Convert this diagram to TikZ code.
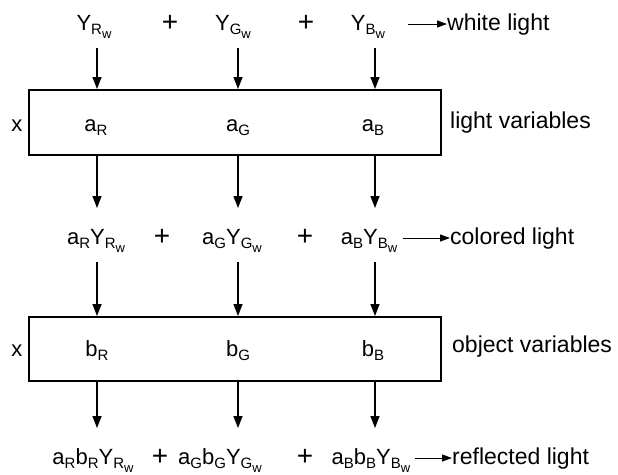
\documentclass[tikz,border=0pt]{standalone}
\usepackage{fontspec}
\setmainfont{Liberation Sans}
\usetikzlibrary{arrows.meta}
\newcommand{\mainsz}{\fontsize{22}{26}\selectfont}
\newcommand{\lblsz}{\fontsize{23}{27}\selectfont}
\newcommand{\plussz}{\fontsize{28}{30}\selectfont}
\newcommand{\sbs}[1]{\raisebox{-4.5pt}{\fontsize{15}{15}\selectfont #1}}
\newcommand{\Yw}[1]{Y\raisebox{-4.5pt}{\fontsize{15}{15}\selectfont #1\raisebox{-3.5pt}{\fontsize{13}{13}\selectfont w}}}
\begin{document}
\begin{tikzpicture}[x=1pt,y=-1pt,
  txt/.style={anchor=base,inner sep=1pt,font=\mainsz},
  plus/.style={anchor=base,inner sep=1pt,font=\plussz},
  lbl/.style={anchor=base west,inner sep=0pt,font=\lblsz},
  varbox/.style={draw,line width=1.8pt,minimum width=412pt,minimum height=65pt,anchor=north west,inner sep=0pt},
  varr/.style={line width=1.4pt,-{Triangle[length=12pt,width=9pt]}},
  harr/.style={line width=1pt,-{Triangle[length=10pt,width=7pt]}}]
\useasboundingbox (0,0) rectangle (618,474);
% boxes
\node[varbox] (box1) at (28,89) {};
\node[varbox,minimum height=64pt] (box2) at (28,316) {};
% row 1
\node[txt] (yR) at (94,30) {\Yw{R}};
\node[plus] (p11) at (170,31) {+};
\node[txt] (yG) at (233,30) {\Yw{G}};
\node[plus] (p12) at (306,31) {+};
\node[txt] (yB) at (368,30) {\Yw{B}};
\node[lbl] (wl) at (447,30) {white light};
\coordinate (wlS) at ([xshift=-39pt,yshift=6pt]wl.base west);
\draw[harr] (wlS) -- ([yshift=6pt]wl.base west);
\coordinate (t1) at (97,48);
\coordinate (t2) at (238,48);
\coordinate (t3) at (375,48);
\draw[varr] (t1) -- (t1 |- box1.north);
\draw[varr] (t2) -- (t2 |- box1.north);
\draw[varr] (t3) -- (t3 |- box1.north);
% box 1 contents
\node[txt] (x1) at (17,131) {x};
\node[txt] (aR) at (96,131) {a\sbs{R}};
\node[txt] (aG) at (238,131) {a\sbs{G}};
\node[txt] (aB) at (373,131) {a\sbs{B}};
\node[lbl] (lv) at (450,128) {light variables};
\coordinate (m1) at (97,208);
\coordinate (m2) at (238,208);
\coordinate (m3) at (375,208);
\draw[varr] (m1 |- box1.south) -- (m1);
\draw[varr] (m2 |- box1.south) -- (m2);
\draw[varr] (m3 |- box1.south) -- (m3);
% row 2
\node[txt] (r2R) at (96,244) {a\sbs{R}\Yw{R}};
\node[plus] (p21) at (162,245) {+};
\node[txt] (r2G) at (232,244) {a\sbs{G}\Yw{G}};
\node[plus] (p22) at (305,245) {+};
\node[txt] (r2B) at (369,244) {a\sbs{B}\Yw{B}};
\node[lbl] (cl) at (450,244) {colored light};
\coordinate (clS) at ([xshift=-47pt,yshift=6pt]cl.base west);
\draw[harr] (clS) -- ([yshift=6pt]cl.base west);
\coordinate (u1) at (97,262);
\coordinate (u2) at (238,262);
\coordinate (u3) at (375,262);
\draw[varr] (u1) -- (u1 |- box2.north);
\draw[varr] (u2) -- (u2 |- box2.north);
\draw[varr] (u3) -- (u3 |- box2.north);
% box 2 contents
\node[txt] (x2) at (17,356) {x};
\node[txt] (bR) at (97,356) {b\sbs{R}};
\node[txt] (bG) at (238,356) {b\sbs{G}};
\node[txt] (bB) at (373,356) {b\sbs{B}};
\node[lbl] (ov) at (452,352) {object variables};
\coordinate (d1) at (97,428);
\coordinate (d2) at (238,428);
\coordinate (d3) at (375,428);
\draw[varr] (d1 |- box2.south) -- (d1);
\draw[varr] (d2 |- box2.south) -- (d2);
\draw[varr] (d3 |- box2.south) -- (d3);
% row 3
\node[txt] (r3R) at (93,464) {a\sbs{R}b\sbs{R}\Yw{R}};
\node[plus] (p31) at (160,465) {+};
\node[txt] (r3G) at (220,464) {a\sbs{G}b\sbs{G}\Yw{G}};
\node[plus] (p32) at (305,465) {+};
\node[txt] (r3B) at (371,464) {a\sbs{B}b\sbs{B}\Yw{B}};
\node[lbl] (rl) at (452,464) {reflected light};
\coordinate (rlS) at ([xshift=-37pt,yshift=6pt]rl.base west);
\draw[harr] (rlS) -- ([yshift=6pt]rl.base west);
\end{tikzpicture}
\end{document}
